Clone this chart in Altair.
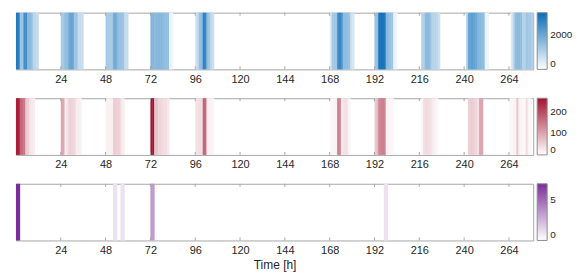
import altair as alt
import pandas as pd

# ---------------- data (hourly values, hours not listed are 0) ----------------
x_ticks = [24, 48, 72, 96, 120, 144, 168, 192, 216, 240, 264]
x_domain = [0, 277]

blue_hours = [0, 1, 2, 3, 4, 5, 6, 7, 8, 9, 10, 11,
              24, 25, 26, 27, 28, 29, 30, 31, 32, 33, 34, 35,
              48, 49, 50, 51, 52, 53, 54, 55, 56, 57, 58, 59,
              72, 73, 74, 75, 76, 77, 78, 79, 80, 81, 82, 83,
              96, 97, 98, 99, 100, 101, 102, 103, 104, 105,
              168, 169, 170, 171, 172, 173, 174, 175, 176, 177, 178, 179, 180,
              192, 193, 194, 195, 196, 197, 198, 199, 200, 201, 202, 203,
              217, 218, 219, 220, 221, 222, 223, 224, 225, 226,
              241, 242, 243, 244, 245, 246, 247, 248, 249, 250, 251, 252,
              265, 266, 267, 268, 269, 270, 271, 272, 273, 274, 275, 276]
blue_vals = [3000, 2900, 1300, 1300, 2600, 2600, 1600, 1600, 1400, 900, 900, 800,
             1200, 1200, 1500, 1500, 2000, 2100, 2000, 1300, 1300, 800, 800, 750,
             1200, 1200, 1200, 1250, 1900, 1900, 1500, 1400, 1400, 1350, 800, 800,
             1700, 1700, 1600, 1600, 1650, 1600, 1550, 1500, 1500, 1450, 250, 250,
             700, 900, 1400, 1500, 2800, 2700, 1500, 1300, 900, 700,
             400, 1200, 1300, 1300, 2600, 2700, 2400, 1500, 1500, 1500, 1400, 700, 600,
             1400, 1500, 3100, 3200, 3100, 3000, 1600, 1500, 1400, 1300, 300, 250,
             1000, 1100, 1500, 1600, 1500, 1100, 1000, 1000, 900, 700,
             900, 2000, 2100, 2200, 2100, 2000, 1700, 1600, 1500, 1500, 300, 250,
             500, 900, 1500, 1600, 1600, 1500, 1000, 1000, 1300, 1200, 1200, 1100]

red_hours = [0, 1, 2, 3, 4, 5, 6, 7, 8, 9,
             24, 25, 26, 27, 28, 29, 30, 31, 32, 33, 34,
             48, 49, 50, 51, 52, 53, 54, 55, 56, 57,
             72, 73, 74, 75, 76, 77, 78, 79, 80, 81,
             96, 97, 98, 99, 100, 101, 102, 103, 104, 105,
             168, 169, 170, 171, 172, 173, 174, 175, 176, 177, 178,
             192, 193, 194, 195, 196, 197, 198, 199, 200, 201,
             217, 218, 219, 220, 221, 222, 223, 224, 225,
             242, 243, 244, 245, 246, 247, 248, 249,
             264, 265, 266, 267, 268, 269, 270, 271, 272, 273, 274, 275]
red_vals = [250, 245, 170, 160, 150, 60, 55, 30, 25, 20,
            100, 95, 15, 30, 50, 50, 45, 40, 20, 20, 15,
            15, 15, 15, 20, 55, 55, 50, 50, 25, 20,
            260, 255, 70, 65, 45, 45, 40, 35, 35, 25,
            30, 35, 35, 35, 170, 165, 20, 15, 15, 10,
            8, 10, 12, 15, 140, 135, 25, 30, 35, 30, 10,
            60, 75, 135, 140, 140, 135, 15, 12, 10, 10,
            12, 35, 40, 40, 35, 30, 20, 15, 10,
            50, 55, 55, 50, 45, 35, 100, 100,
            8, 10, 12, 15, 65, 20, 12, 10, 10, 40, 12, 8]

purple_hours = [0, 1, 52, 53, 56, 57, 72, 73, 197, 198]
purple_vals = [7, 7, 1, 1, 1, 1, 3.5, 3.5, 1, 1]

PANEL_W = 520
PANEL_H = 57
FRAME = "#a6a6a6"
TEXT = "#262626"
FONT = "Liberation Sans"


def panel(hours, vals, hi_color, vmax, legend_vals, title):
    df = pd.DataFrame({"h": hours, "v": vals})
    # each hourly cell spans one hour; a hair of overlap hides anti-alias seams
    df["h2"] = df["h"] + 1.25
    xscale = alt.Scale(domain=x_domain, nice=False, zero=False)
    axis_kw = dict(values=x_ticks, ticks=False, domain=False, grid=False,
                   labelPadding=4, labelFontSize=11, labelColor=TEXT,
                   labelFont=FONT, minExtent=16, maxExtent=16)
    if title is not None:
        axis_kw.update(title=title, titleFontSize=12, titleFontWeight="normal",
                       titleColor=TEXT, titleFont=FONT, titlePadding=3)
        xenc = alt.X("h:Q", scale=xscale, axis=alt.Axis(**axis_kw))
    else:
        xenc = alt.X("h:Q", scale=xscale, axis=alt.Axis(**axis_kw), title=None)
    cscale = alt.Scale(domain=[0, vmax], range=["#ffffff", hi_color],
                       interpolate="rgb")
    rect = alt.Chart(df).mark_rect().encode(
        x=xenc,
        x2="h2:Q",
        color=alt.Color("v:Q", scale=cscale,
                        legend=alt.Legend(values=legend_vals, title=None, format="d",
                                          gradientLength=PANEL_H, gradientThickness=10,
                                          labelFontSize=10, labelColor=TEXT, labelFont=FONT,
                                          labelBaseline="middle",
                                          offset=4, padding=0, labelOffset=3,
                                          gradientStrokeColor="#8c8c8c",
                                          gradientStrokeWidth=1)),
        order=alt.Order("h:Q"),
    )
    tdf = pd.DataFrame({"t": x_ticks})
    top = alt.Chart(tdf).mark_rule(color=FRAME, strokeWidth=1).encode(
        x=alt.X("t:Q", scale=xscale), y=alt.value(0), y2=alt.value(3))
    bot = alt.Chart(tdf).mark_rule(color=FRAME, strokeWidth=1).encode(
        x=alt.X("t:Q", scale=xscale), y=alt.value(PANEL_H - 3), y2=alt.value(PANEL_H))
    return alt.layer(rect, top, bot).properties(width=PANEL_W, height=PANEL_H)


p1 = panel(blue_hours, blue_vals, "#0b6db8", 3300, [0, 2000], None)
p2 = panel(red_hours, red_vals, "#a3122f", 262, [0, 100, 200], None)
p3 = panel(purple_hours, purple_vals, "#7b2e9a", 7, [0, 5], "Time [h]")

chart = alt.vconcat(p1, p2, p3, spacing=11).resolve_scale(
    color="independent").resolve_legend(color="independent").properties(
    padding={"left": 7, "top": 3, "right": 0, "bottom": 0},
    background="white",
).configure_view(stroke=FRAME, strokeWidth=1)

chart.save("out.html", embed_options={"renderer": "svg", "actions": False})
